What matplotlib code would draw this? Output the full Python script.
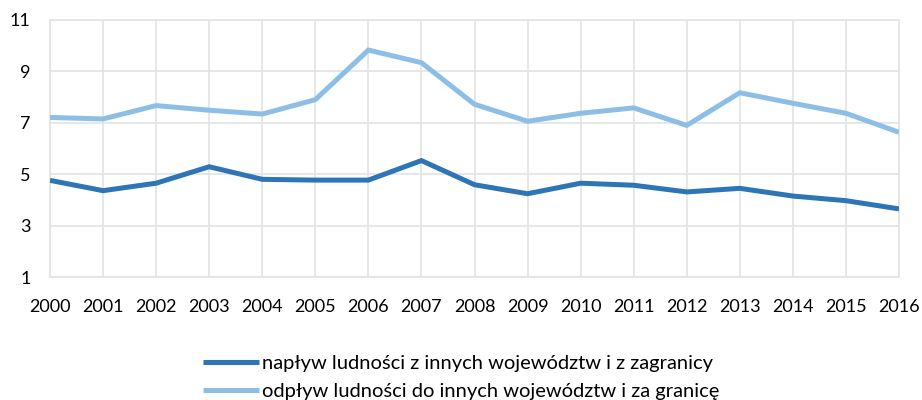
import matplotlib
matplotlib.use('Agg')
import matplotlib.pyplot as plt

plt.rcParams['font.family'] = ['Lato', 'DejaVu Sans']

years = list(range(2000, 2017))
naplyw = [4.76, 4.36, 4.65, 5.29, 4.80, 4.77, 4.77, 5.53, 4.59, 4.24,
          4.65, 4.57, 4.31, 4.45, 4.15, 3.97, 3.65]
odplyw = [7.21, 7.15, 7.67, 7.49, 7.34, 7.90, 9.83, 9.34, 7.72, 7.06,
          7.37, 7.58, 6.90, 8.17, 7.76, 7.37, 6.63]
labels = ['napływ ludności z innych województw i z zagranicy',
          'odpływ ludności do innych województw i za granicę']
yticks = [1, 3, 5, 7, 9, 11]

dark = '#2E75B6'
light = '#8DBFE6'
grid = '#E3E3E3'

fig = plt.figure(figsize=(9.22, 4.0), dpi=100)
ax = fig.add_axes([50/922, 123/400, 849/922, 257/400])

ax.plot(years, naplyw, color=dark, lw=3.6, label=labels[0],
        solid_capstyle='butt', solid_joinstyle='miter', zorder=3)
ax.plot(years, odplyw, color=light, lw=3.6, label=labels[1],
        solid_capstyle='butt', solid_joinstyle='miter', zorder=3)

ax.set_xlim(2000, 2016)
ax.set_ylim(1, 11)
ax.set_xticks(years)
ax.set_yticks(yticks)
ax.grid(True, color=grid, lw=1.2, zorder=0)
for sp in ax.spines.values():
    sp.set_color(grid)
    sp.set_linewidth(1.2)
ax.tick_params(length=0, labelsize=13, colors='black')
ax.tick_params(axis='x', pad=16)
ax.tick_params(axis='y', pad=14)

fig.legend(loc='upper center', bbox_to_anchor=(461/922, 1 - 345/400),
           ncol=1, frameon=False, fontsize=14.5, handlelength=2.8,
           handletextpad=0.15, labelspacing=0.55, borderpad=0)

fig.savefig('out.png', dpi=100)
